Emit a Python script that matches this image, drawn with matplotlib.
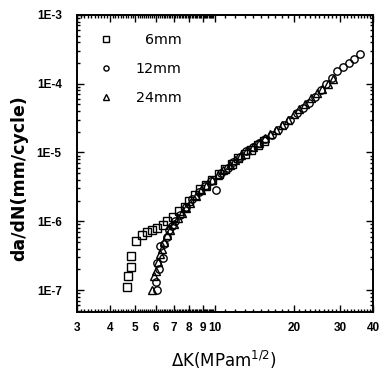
"""Fatigue crack growth rate vs stress intensity range for three thicknesses."""

import matplotlib
matplotlib.use('Agg')
import matplotlib.pyplot as plt
from matplotlib.ticker import FixedLocator, FixedFormatter, LogLocator, NullFormatter

plt.rcParams['font.family'] = ['Liberation Sans', 'DejaVu Sans']

# 6mm specimen (squares)
dk_6 = [4.64, 4.69, 4.81, 4.83, 5.03, 5.28, 5.53, 5.8, 6.06, 6.35, 6.6, 6.97,
        7.3, 7.7, 8.0, 8.4, 8.8, 9.3, 9.8, 10.4, 11.0, 11.6, 12.3, 13.0,
        13.8, 14.6, 15.4]
rate_6 = [1.1e-7, 1.6e-7, 2.2e-7, 3.1e-7, 5.2e-7, 6.3e-7, 6.9e-7, 7.5e-7,
          8.0e-7, 8.8e-7, 1.0e-6, 1.15e-6, 1.4e-6, 1.6e-6, 2.0e-6, 2.4e-6,
          2.9e-6, 3.4e-6, 4.0e-6, 4.8e-6, 5.7e-6, 6.8e-6, 8.2e-6, 9.6e-6,
          1.1e-5, 1.28e-5, 1.48e-5]

# 12mm specimen (circles)
dk_12 = [6.05, 5.98, 6.13, 6.06, 6.35, 6.2, 6.45, 6.6, 6.7, 6.9, 7.1, 7.4,
         7.8, 8.2, 8.7, 9.2, 9.7, 10.1, 10.6, 11.2, 11.8, 12.5, 13.2, 14.0,
         14.8, 15.6, 16.5, 17.4, 18.4, 19.4, 20.5, 21.6, 22.8, 24.0, 25.3,
         26.6, 28.0, 29.3, 30.8, 32.5, 34.0, 35.7]
rate_12 = [1.0e-7, 1.3e-7, 2.0e-7, 2.5e-7, 2.9e-7, 4.3e-7, 4.7e-7, 6.0e-7,
           7.5e-7, 8.4e-7, 1.0e-6, 1.25e-6, 1.6e-6, 2.1e-6, 2.7e-6, 3.3e-6,
           3.9e-6, 2.8e-6, 5.0e-6, 6.0e-6, 7.2e-6, 8.6e-6, 1.05e-5, 1.2e-5,
           1.35e-5, 1.55e-5, 1.8e-5, 2.1e-5, 2.5e-5, 3.0e-5, 3.7e-5, 4.4e-5,
           5.3e-5, 6.5e-5, 8.0e-5, 9.8e-5, 1.2e-4, 1.55e-4, 1.77e-4, 2.0e-4,
           2.27e-4, 2.7e-4]

# 24mm specimen (triangles)
dk_24 = [5.8, 5.9, 6.0, 6.1, 6.2, 6.3, 6.45, 6.6, 6.8, 7.0, 7.25, 7.5, 7.8,
         8.1, 8.5, 8.9, 9.3, 9.8, 10.3, 10.8, 11.4, 12.0, 12.6, 13.3, 14.0,
         14.7, 15.5, 16.3, 17.1, 18.0, 19.0, 20.0, 21.0, 22.1, 23.3, 24.5,
         25.7, 27.0, 28.2]
rate_24 = [1.0e-7, 1.6e-7, 1.9e-7, 2.6e-7, 3.3e-7, 4.0e-7, 5.0e-7, 6.3e-7,
           7.5e-7, 9.0e-7, 1.1e-6, 1.3e-6, 1.55e-6, 1.85e-6, 2.3e-6, 2.8e-6,
           3.3e-6, 4.0e-6, 4.7e-6, 5.6e-6, 6.6e-6, 7.8e-6, 9.2e-6, 1.07e-5,
           1.22e-5, 1.38e-5, 1.6e-5, 1.85e-5, 2.15e-5, 2.5e-5, 3.0e-5, 3.6e-5,
           4.3e-5, 5.1e-5, 6.1e-5, 7.2e-5, 8.5e-5, 1.0e-4, 1.15e-4]

x_ticks = [3, 4, 5, 6, 7, 8, 9, 10, 20, 30, 40]
x_tick_labels = ['3', '4', '5', '6', '7', '8', '9', '10', '20', '30', '40']
y_ticks = [1e-7, 1e-6, 1e-5, 1e-4, 1e-3]
y_tick_labels = ['1E-7', '1E-6', '1E-5', '1E-4', '1E-3']

fig = plt.figure(figsize=(3.81, 3.71), dpi=100)
ax = fig.add_axes([0.202, 0.159, 0.777, 0.801])

style = dict(linestyle='none', markerfacecolor='none', markeredgecolor='black',
             markersize=5.3, markeredgewidth=1.0)
ax.plot(dk_6, rate_6, marker='s', label='  6mm', **style)
ax.plot(dk_12, rate_12, marker='o', label='12mm', **style)
ax.plot(dk_24, rate_24, marker='^', label='24mm', **style)

ax.set_xscale('log')
ax.set_yscale('log')
ax.set_xlim(3, 40)
ax.set_ylim(4.8e-8, 1e-3)

# Ticks
ax.xaxis.set_major_locator(FixedLocator(x_ticks))
ax.xaxis.set_major_formatter(FixedFormatter(x_tick_labels))
ax.xaxis.set_minor_locator(LogLocator(base=10, subs=[i / 10 for i in range(11, 100)]))
ax.xaxis.set_minor_formatter(NullFormatter())
ax.yaxis.set_major_locator(FixedLocator(y_ticks))
ax.yaxis.set_major_formatter(FixedFormatter(y_tick_labels))
ax.yaxis.set_minor_locator(LogLocator(base=10, subs=range(2, 10)))
ax.yaxis.set_minor_formatter(NullFormatter())
ax.tick_params(which='both', direction='in', top=True, right=True, width=1.0)
ax.tick_params(which='major', length=5, labelsize=8.5)
ax.tick_params(axis='y', which='major', pad=11)
ax.tick_params(axis='x', which='major', pad=7)
ax.tick_params(which='minor', length=2)
for lab in ax.get_xticklabels() + ax.get_yticklabels():
    lab.set_fontweight('bold')
for spine in ax.spines.values():
    spine.set_linewidth(1.4)

# Axis labels
ax.set_xlabel('ΔK(MPam$^{1/2}$)', fontsize=12, family='DejaVu Sans')
ax.xaxis.set_label_coords(0.497, -0.125)
ax.set_ylabel('da/dN(mm/cycle)', fontsize=12.5, fontweight='bold',
              family='DejaVu Sans')
ax.yaxis.set_label_coords(-0.165, 0.45)

leg = ax.legend(loc='upper left', frameon=False, markerscale=0.7,
                prop={'family': 'DejaVu Sans', 'size': 10.3},
                labelspacing=1.05, handletextpad=1.3, borderaxespad=0.7,
                borderpad=0.6, handlelength=1.5)

fig.savefig('out.png', dpi=100)
